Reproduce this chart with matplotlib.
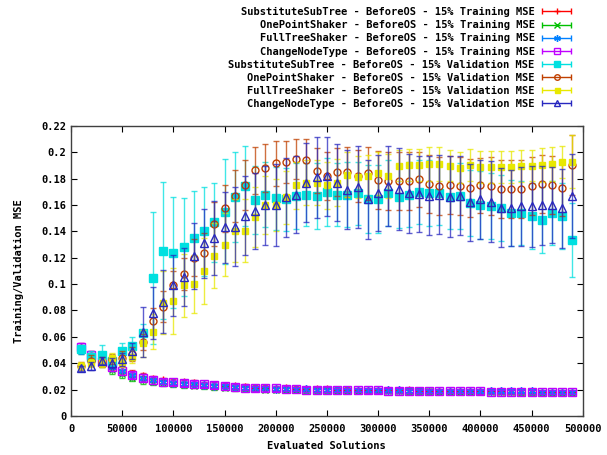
import matplotlib
matplotlib.use("Agg")
import matplotlib.pyplot as plt
from matplotlib.ticker import MultipleLocator, FuncFormatter
from matplotlib.container import ErrorbarContainer
from matplotlib.legend_handler import HandlerErrorbar

plt.rcParams['font.family'] = ['DejaVu Sans Mono']
plt.rcParams['font.weight'] = 'bold'
plt.rcParams['font.size'] = 7.5

# evaluated solutions (x grid)
evals = list(range(10000, 500000, 10000))

# training MSE
sst_train = [0.052, 0.046, 0.041, 0.038, 0.035, 0.032, 0.030, 0.028, 0.027, 0.026, 0.0255, 0.025, 0.024, 0.0235,
             0.023, 0.0225, 0.022, 0.0215, 0.0213, 0.021, 0.021, 0.0205, 0.0204, 0.0203, 0.0202, 0.020, 0.0199,
             0.0198, 0.0197, 0.0196, 0.0195, 0.0194, 0.0193, 0.0192, 0.0191, 0.019, 0.019, 0.0189, 0.0188, 0.0187,
             0.0186, 0.0185, 0.0184, 0.0183, 0.0182, 0.0181, 0.018, 0.018, 0.0179]
ops_train = [0.050, 0.044, 0.040, 0.035, 0.032, 0.029, 0.027, 0.026, 0.025, 0.024, 0.0235, 0.023, 0.0225, 0.022,
             0.0215, 0.021, 0.021, 0.0205, 0.020, 0.020, 0.0198, 0.0196, 0.0195, 0.0194, 0.0193, 0.0192, 0.0191,
             0.019, 0.019, 0.0189, 0.0188, 0.0187, 0.0186, 0.0186, 0.0185, 0.0184, 0.0184, 0.0183, 0.0182, 0.0181,
             0.018, 0.018, 0.0179, 0.0178, 0.0178, 0.0177, 0.0177, 0.0176, 0.0176]
fts_train = [0.050, 0.045, 0.041, 0.037, 0.034, 0.031, 0.029, 0.027, 0.026, 0.025, 0.0245, 0.024, 0.0235, 0.023,
             0.0225, 0.022, 0.0215, 0.021, 0.021, 0.0207, 0.0205, 0.0203, 0.0201, 0.020, 0.0199, 0.0198, 0.0197,
             0.0196, 0.0195, 0.0194, 0.0193, 0.0193, 0.0192, 0.0191, 0.0191, 0.019, 0.019, 0.0189, 0.0189, 0.0188,
             0.0187, 0.0187, 0.0186, 0.0186, 0.0185, 0.0184, 0.0184, 0.0183, 0.0183]
cnt_train = [0.052, 0.046, 0.041, 0.037, 0.034, 0.031, 0.029, 0.027, 0.026, 0.0255, 0.025, 0.0245, 0.024, 0.0235,
             0.023, 0.0222, 0.0215, 0.021, 0.021, 0.0208, 0.0205, 0.0203, 0.020, 0.020, 0.0198, 0.0197, 0.0196,
             0.0195, 0.0194, 0.0193, 0.0192, 0.0191, 0.019, 0.019, 0.0189, 0.0188, 0.0188, 0.0187, 0.0186, 0.0185,
             0.0184, 0.0183, 0.0182, 0.0181, 0.018, 0.018, 0.0179, 0.0179, 0.0178]
train_err = [0.003, 0.003, 0.003, 0.003, 0.003, 0.0025, 0.0025, 0.0025, 0.002, 0.002, 0.002, 0.002, 0.002, 0.002,
             0.002, 0.002, 0.002, 0.002, 0.0018, 0.0018, 0.0018, 0.0018, 0.0018, 0.0018, 0.0018, 0.0018, 0.0017,
             0.0017, 0.0017, 0.0017, 0.0017, 0.0017, 0.0017, 0.0017, 0.0016, 0.0016, 0.0016, 0.0016, 0.0016, 0.0016,
             0.0016, 0.0016, 0.0016, 0.0016, 0.0016, 0.0015, 0.0015, 0.0015, 0.0015]

# validation MSE
sst_val = [0.051, 0.045, 0.046, 0.042, 0.049, 0.053, 0.063, 0.1045, 0.1255, 0.124, 0.128, 0.135, 0.140, 0.147,
           0.155, 0.166, 0.1745, 0.164, 0.168, 0.165, 0.1645, 0.167, 0.168, 0.167, 0.170, 0.168, 0.168, 0.169,
           0.1645, 0.1645, 0.169, 0.1665, 0.168, 0.170, 0.169, 0.169, 0.1665, 0.167, 0.1615, 0.160, 0.159, 0.158,
           0.154, 0.154, 0.152, 0.149, 0.154, 0.152, 0.1335]
sst_val_err = [0.003, 0.004, 0.008, 0.004, 0.006, 0.007, 0.007, 0.050, 0.052, 0.042, 0.037, 0.036, 0.034, 0.030,
               0.040, 0.034, 0.030, 0.026, 0.025, 0.024, 0.024, 0.025, 0.024, 0.025, 0.026, 0.024, 0.025, 0.024,
               0.026, 0.026, 0.025, 0.024, 0.025, 0.024, 0.025, 0.024, 0.025, 0.025, 0.025, 0.026, 0.025, 0.025,
               0.025, 0.024, 0.025, 0.025, 0.024, 0.025, 0.028]
ops_val = [0.038, 0.042, 0.041, 0.043, 0.044, 0.047, 0.056, 0.072, 0.083, 0.099, 0.1075, 0.120, 0.124, 0.1457,
           0.1575, 0.167, 0.1755, 0.1864, 0.188, 0.1917, 0.193, 0.195, 0.194, 0.186, 0.182, 0.185, 0.185, 0.182,
           0.184, 0.179, 0.178, 0.178, 0.178, 0.1796, 0.176, 0.1745, 0.175, 0.1745, 0.1728, 0.175, 0.1745, 0.172,
           0.172, 0.172, 0.1745, 0.176, 0.175, 0.1728, 0.1904]
ops_val_err = [0.003, 0.004, 0.004, 0.004, 0.005, 0.005, 0.006, 0.010, 0.012, 0.011, 0.012, 0.014, 0.015, 0.017,
               0.018, 0.020, 0.019, 0.018, 0.018, 0.017, 0.016, 0.015, 0.016, 0.017, 0.018, 0.018, 0.019, 0.020,
               0.020, 0.022, 0.022, 0.022, 0.022, 0.021, 0.022, 0.022, 0.022, 0.022, 0.022, 0.021, 0.022, 0.022,
               0.022, 0.022, 0.022, 0.022, 0.022, 0.021, 0.023]
fts_val = [0.038, 0.040, 0.040, 0.044, 0.041, 0.045, 0.055, 0.064, 0.086, 0.087, 0.099, 0.100, 0.110, 0.1217,
           0.130, 0.1406, 0.1406, 0.151, 0.160, 0.160, 0.166, 0.175, 0.177, 0.177, 0.175, 0.177, 0.183, 0.1816,
           0.182, 0.184, 0.182, 0.190, 0.1905, 0.1905, 0.191, 0.191, 0.190, 0.1884, 0.1905, 0.1887, 0.1887, 0.1887,
           0.1887, 0.1896, 0.190, 0.1905, 0.191, 0.1925, 0.193]
fts_val_err = [0.003, 0.003, 0.003, 0.004, 0.004, 0.005, 0.010, 0.013, 0.024, 0.025, 0.024, 0.022, 0.025, 0.025,
               0.024, 0.024, 0.024, 0.023, 0.022, 0.020, 0.020, 0.018, 0.017, 0.017, 0.018, 0.018, 0.017, 0.016,
               0.016, 0.016, 0.017, 0.012, 0.012, 0.012, 0.013, 0.013, 0.012, 0.012, 0.012, 0.012, 0.012, 0.012,
               0.012, 0.012, 0.012, 0.013, 0.013, 0.012, 0.020]
cnt_val = [0.036, 0.038, 0.042, 0.040, 0.043, 0.049, 0.064, 0.078, 0.0867, 0.099, 0.1057, 0.1216, 0.131, 0.135,
           0.143, 0.1437, 0.152, 0.1555, 0.160, 0.160, 0.166, 0.168, 0.177, 0.181, 0.182, 0.177, 0.1715, 0.1735,
           0.1645, 0.169, 0.1745, 0.172, 0.169, 0.1684, 0.167, 0.168, 0.1665, 0.167, 0.162, 0.1645, 0.1626, 0.158,
           0.1576, 0.159, 0.159, 0.160, 0.160, 0.1576, 0.167]
cnt_val_err = [0.002, 0.003, 0.003, 0.004, 0.005, 0.006, 0.019, 0.020, 0.024, 0.023, 0.022, 0.025, 0.026, 0.028,
               0.027, 0.030, 0.030, 0.029, 0.030, 0.031, 0.030, 0.029, 0.030, 0.031, 0.030, 0.029, 0.030, 0.031,
               0.030, 0.029, 0.030, 0.031, 0.030, 0.029, 0.030, 0.030, 0.031, 0.030, 0.029, 0.030, 0.031, 0.030,
               0.029, 0.030, 0.031, 0.030, 0.029, 0.030, 0.032]

series = [
    ("SubstituteSubTree - BeforeOS - 15% Training MSE", sst_train, train_err, '#ff0000', '+', 'none', 6),
    ("OnePointShaker - BeforeOS - 15% Training MSE", ops_train, train_err, '#00c000', 'x', 'none', 5),
    ("FullTreeShaker - BeforeOS - 15% Training MSE", fts_train, train_err, '#0080ff', (6, 2, 0), 'none', 6),
    ("ChangeNodeType - BeforeOS - 15% Training MSE", cnt_train, train_err, '#c000ff', 's', 'none', 6),
    ("SubstituteSubTree - BeforeOS - 15% Validation MSE", sst_val, sst_val_err, '#00e0e0', 's', '#00e0e0', 5.5),
    ("OnePointShaker - BeforeOS - 15% Validation MSE", ops_val, ops_val_err, '#c04000', 'o', 'none', 5),
    ("FullTreeShaker - BeforeOS - 15% Validation MSE", fts_val, fts_val_err, '#e8e800', 's', '#e8e800', 4.5),
    ("ChangeNodeType - BeforeOS - 15% Validation MSE", cnt_val, cnt_val_err, '#2828c0', '^', 'none', 6),
]

fig = plt.figure(figsize=(6.07, 4.55), dpi=100)
ax = fig.add_axes([0.117, 0.086, 0.843, 0.637])

handles = []
for label, vals, err, col, mk, fc, ms in series:
    ax.errorbar(evals, vals, yerr=err, fmt='none', ecolor=col, elinewidth=1.0,
                capsize=2.5, capthick=1.0, alpha=0.75)
    ax.plot(evals, vals, linestyle='none', marker=mk, markersize=ms,
            markerfacecolor=fc, markeredgecolor=col, markeredgewidth=1.0)
    # legend proxy: horizontal bar with end caps and the point marker
    h = ax.errorbar([float('nan')], [float('nan')], xerr=[1.0], linestyle='none', marker=mk,
                    markersize=ms * 0.8, markerfacecolor=fc, markeredgecolor=col,
                    ecolor=col, elinewidth=1.0, capsize=2.5, capthick=1.0, label=label)
    handles.append(h)

ax.set_xlim(0, 500000)
ax.set_ylim(0, 0.22)
ax.xaxis.set_major_locator(MultipleLocator(50000))
ax.yaxis.set_major_locator(MultipleLocator(0.02))
ax.yaxis.set_major_formatter(FuncFormatter(lambda v, p: '%g' % round(v, 4)))
ax.tick_params(direction='in', top=True, right=True, length=4, width=0.8, labelsize=7.5)
ax.tick_params(axis='x', pad=6)
for s in ax.spines.values():
    s.set_linewidth(1.0)
    s.set_color('#404040')

ax.set_xlabel('Evaluated Solutions', fontweight='bold', labelpad=5)
ax.set_ylabel('Training/Validation MSE', fontweight='bold', labelpad=12)

labels = [s[0] for s in series]
fig.legend(handles, labels, loc='upper right', bbox_to_anchor=(0.958, 1.005), frameon=False,
           markerfirst=False, handlelength=3.0, handletextpad=0.6, labelspacing=0.3,
           handler_map={ErrorbarContainer: HandlerErrorbar(xerr_size=1.4)},
           prop={'family': 'DejaVu Sans Mono', 'weight': 'bold', 'size': 7.5})

fig.savefig('out.png', dpi=100)
